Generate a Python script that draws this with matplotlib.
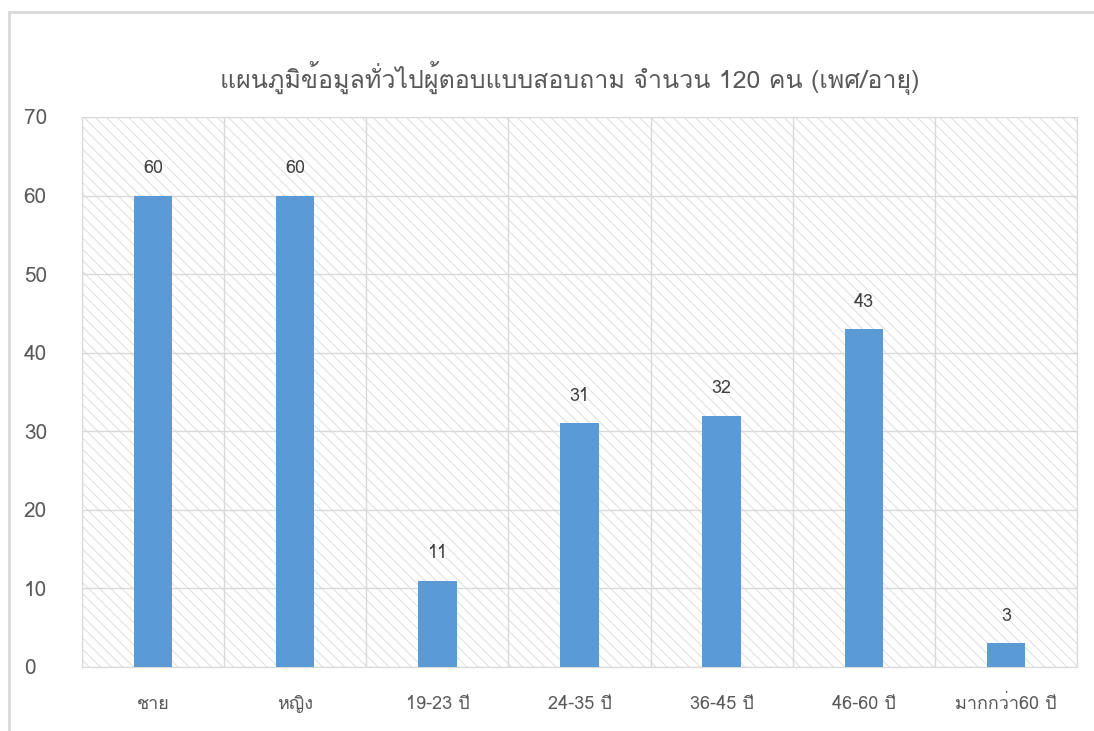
import matplotlib
matplotlib.use('Agg')
import matplotlib.pyplot as plt
from matplotlib import font_manager
from matplotlib.ft2font import FT2Font
from matplotlib.lines import Line2D

# ข้อมูล
categories = ['ชาย', 'หญิง', '19-23 ปี', '24-35 ปี', '36-45 ปี', '46-60 ปี', 'มากกว่า60 ปี']
values = [60, 60, 11, 31, 32, 43, 3]
yticks = [0, 10, 20, 30, 40, 50, 60, 70]
title = 'แผนภูมิข้อมูลทั่วไปผู้ตอบแบบสอบถาม จำนวน 120 คน (เพศ/อายุ)'

# หาฟอนต์ที่มีอักษรไทย
thai_family = None
for f in font_manager.fontManager.ttflist:
    try:
        cmap = FT2Font(f.fname).get_charmap()
    except Exception:
        continue
    if ord('แ') in cmap and ord('ม') in cmap:
        thai_family = f.name
        break
families = ([thai_family] if thai_family else []) + ['DejaVu Sans']
plt.rcParams['font.family'] = families
plt.rcParams['hatch.linewidth'] = 0.7

fig = plt.figure(figsize=(10.94, 7.31), dpi=100)
ax = fig.add_axes([0.075, 0.0876, 0.9095, 0.7524])

# พื้นหลังลายเส้นทแยง
ax.patch.set_facecolor('white')
ax.patch.set_hatch('\\\\\\')
ax.patch.set_edgecolor('#dedede')

x = range(len(categories))
ax.bar(x, values, width=0.27, color='#5B9BD5', zorder=3)

for xi, v in zip(x, values):
    ax.text(xi, v + 3.5, str(v), ha='center', va='center', fontsize=13, color='#404040')

ax.set_xlim(-0.5, len(categories) - 0.5)
ax.set_ylim(0, 70)
ax.set_yticks(yticks)
ax.set_xticks(list(x))
ax.set_xticklabels(categories)
ax.tick_params(axis='x', length=0, pad=20, labelsize=13, labelcolor='#595959')
ax.tick_params(axis='y', length=0, pad=42, labelsize=15, labelcolor='#595959')
for lab in ax.get_yticklabels():
    lab.set_horizontalalignment('left')

# เส้นกริด
for yv in yticks:
    ax.axhline(yv, color='#d9d9d9', lw=1, zorder=1)
for k in range(len(categories) + 1):
    ax.axvline(k - 0.5, color='#d9d9d9', lw=1, zorder=1)
for s in ax.spines.values():
    s.set_color('#d9d9d9')

fig.text(0.521, 0.893, title, ha='center', va='center', fontsize=18, color='#595959')

# กรอบของแผนภูมิ
fig.add_artist(Line2D([0.0085, 0.0085], [0, 0.984], color='#d9d9d9', lw=2, transform=fig.transFigure))
fig.add_artist(Line2D([0.0085, 1], [0.984, 0.984], color='#d9d9d9', lw=2, transform=fig.transFigure))

fig.savefig('out.png', dpi=100)
